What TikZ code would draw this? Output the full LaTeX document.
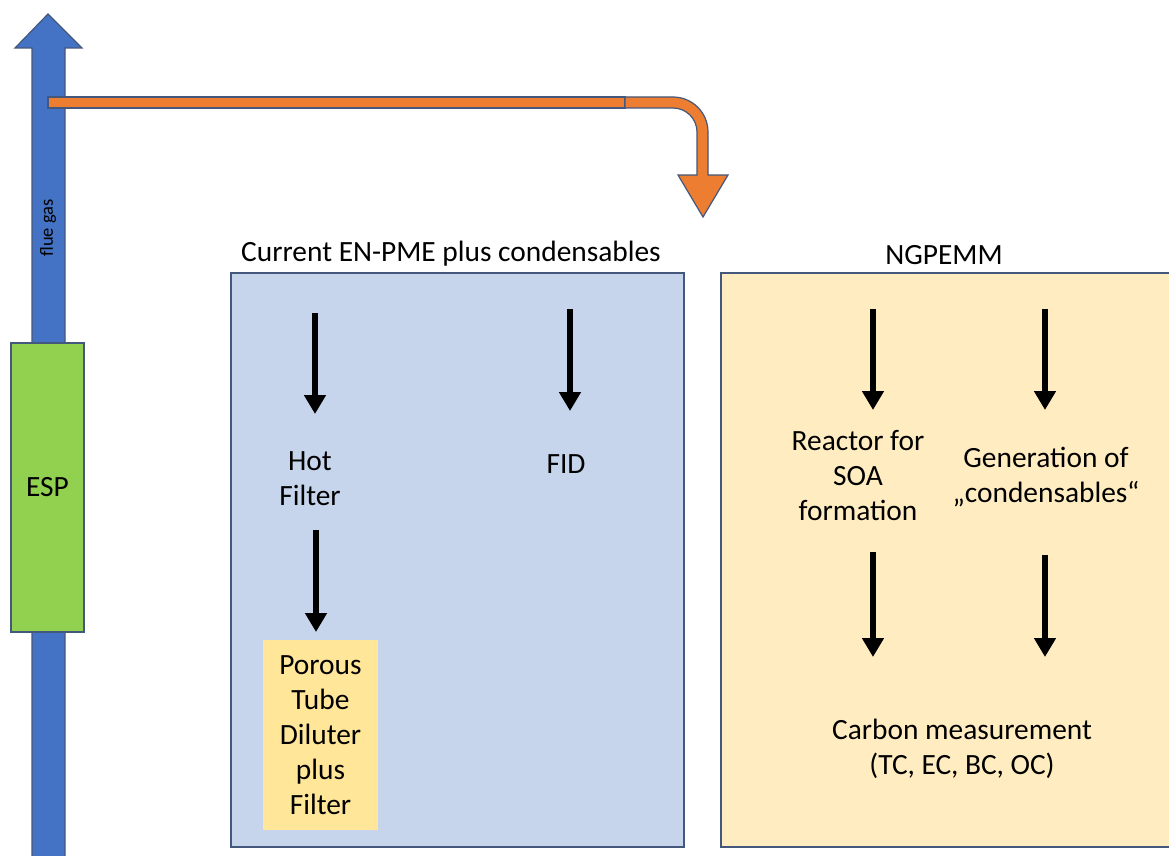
\documentclass[tikz,border=0pt]{standalone}
\usepackage{fontspec}
\setmainfont{Carlito}
\usetikzlibrary{arrows.meta}

\definecolor{flueblue}{HTML}{4472C4}
\definecolor{pipeorange}{HTML}{ED7D31}
\definecolor{espgreen}{HTML}{92D050}
\definecolor{edgeslate}{HTML}{44577C}
\definecolor{pmefill}{HTML}{C6D4EC}
\definecolor{ngfill}{HTML}{FFEDC1}
\definecolor{ptdfill}{HTML}{FFE699}

\begin{document}
\begin{tikzpicture}[x=1pt, y=-1pt,
    txt/.style = {font=\fontsize{29.4}{35}\selectfont, align=center, inner sep=0pt},
    area/.style = {draw=edgeslate, line width=2pt, anchor=north west, inner sep=0pt},
    pipe/.style = {draw=edgeslate, line width=1.2pt, line join=miter},
    flow/.style = {line width=6.5pt, -{Triangle[width=21pt, length=19pt]}}]
    \useasboundingbox (0,0) rectangle (1169,856);

    % flue gas duct and ESP
    \fill[flueblue, draw=edgeslate, line width=1.2pt] (32,862) -- (32,48) -- (15,48) -- (48,14) -- (82,48) -- (65,48) -- (65,862) -- cycle;
    \node[font=\fontsize{18.5}{20}\selectfont, rotate=90, inner sep=0pt] (flue) at (48,228) {flue gas};
    \node[draw=edgeslate, line width=1.2pt, fill=espgreen, minimum width=73pt, minimum height=289pt, inner sep=0pt, font=\fontsize{29.4}{35}\selectfont] (esp) at (47.5,487.5) {ESP};

    % sampling line
    \fill[pipeorange, pipe] (48,97) rectangle (625,108);
    \fill[pipeorange, pipe] (625,97) -- (673,97) arc[start angle=-90, end angle=0, radius=35] -- (708,175) -- (728,175) -- (703,217) -- (678,175) -- (697,175) -- (697,132) arc[start angle=0, end angle=-90, radius=24] -- (625,108) -- cycle;

    % the two set-ups
    \node[area, fill=pmefill, minimum width=453pt, minimum height=574pt] (pme) at (230,272) {};
    \node[area, fill=ngfill, minimum width=470pt, minimum height=574pt] (ng) at (720,272) {};
    \node[txt] (pmetitle) at (451,254) {Current EN-PME plus condensables};
    \node[txt] (ngtitle) at (944,255) {NGPEMM};

    % current method
    \node[txt] (hot) at (310,479) {Hot\\Filter};
    \node[txt] (fid) at (566,464) {FID};
    \node[txt, fill=ptdfill, minimum width=115pt, minimum height=190pt] (ptd) at (320.5,735) {Porous\\Tube\\Diluter\\plus\\Filter};

    % NGPEMM
    \node[txt] (reactor) at (858,476) {Reactor for\\SOA\\formation};
    \node[txt] (gencond) at (1046,477) {Generation of\\„condensables“};
    \node[txt] (carbon) at (962,749) {Carbon measurement\\(TC, EC, BC, OC)};

    \coordinate (a1) at (315,313);  \coordinate (b1) at (315,414);
    \coordinate (a2) at (316,530);  \coordinate (b2) at (316,632);
    \coordinate (a3) at (570,309);  \coordinate (b3) at (570,411);
    \coordinate (a4) at (873,309);  \coordinate (b4) at (873,410);
    \coordinate (a5) at (1045,309); \coordinate (b5) at (1045,410);
    \coordinate (a6) at (873,552);  \coordinate (b6) at (873,657);
    \coordinate (a7) at (1045,555); \coordinate (b7) at (1045,657);

    \draw[flow] (a1) -- (b1);
    \draw[flow] (a2) -- (b2);
    \draw[flow] (a3) -- (b3);
    \draw[flow] (a4) -- (b4);
    \draw[flow] (a5) -- (b5);
    \draw[flow] (a6) -- (b6);
    \draw[flow] (a7) -- (b7);
\end{tikzpicture}
\end{document}
